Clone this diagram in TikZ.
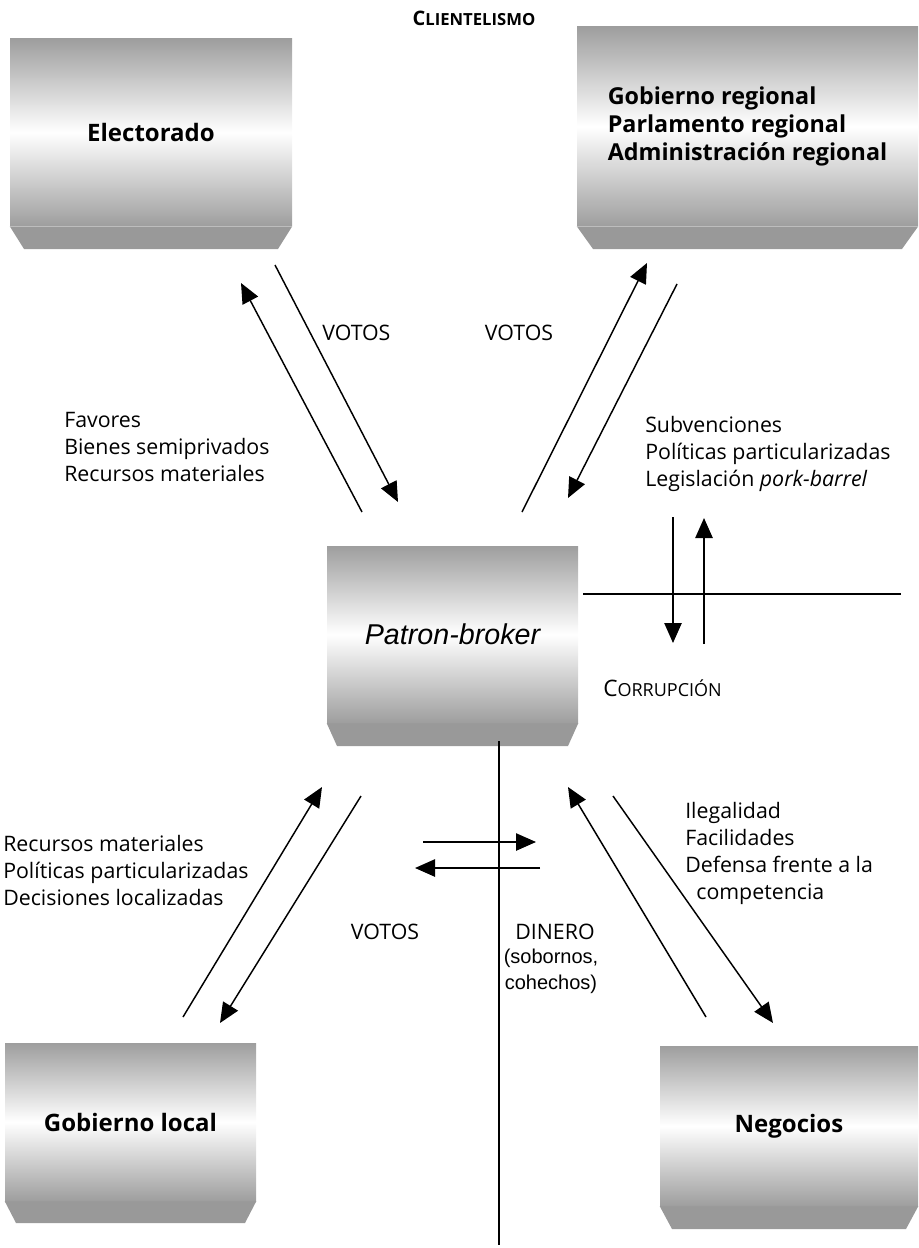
\documentclass[tikz,border=0pt]{standalone}
\usepackage{fontspec}
\setmainfont{Open Sans}
\newfontfamily\arialf{Liberation Sans}
\usetikzlibrary{arrows.meta,calc}
\definecolor{shadegray}{gray}{0.62}
\definecolor{bevelgray}{gray}{0.60}
\tikzset{
  box/.style={draw=none, top color=shadegray, bottom color=shadegray, middle color=white,
              inner sep=0pt, align=center, font=\fontsize{18}{21}\selectfont\bfseries},
  arr/.style={-{Triangle[length=15pt,width=13pt]}, line width=1.1pt},
  plainline/.style={line width=1.1pt},
  txt/.style={font=\fontsize{16}{20.25}\selectfont, align=left, anchor=west, inner sep=0pt},
  smallcap/.style={font=\fontsize{17}{20}\selectfont, inner sep=0pt},
}
\newcommand\mybox[8]{%
  % #1 name #2 x1 #3 ytop #4 x2 #5 ybottom #6 bevel bottom #7 inset #8 text
  \node[box, minimum width={(#4-#2)*0.75pt}, minimum height={(#5-#3)*0.75pt}]
     (#1) at ({(#2+#4)/2},{(#3+#5)/2}) {#8};
  \fill[bevelgray] (#1.south west) -- (#1.south east) -- ({#4-#7},#6) -- ({#2+#7},#6) -- cycle;
}
\begin{document}
\begin{tikzpicture}[x=0.75pt,y=-0.75pt]
\useasboundingbox (0,0) rectangle (918,1248);

% boxes
\mybox{elec}{10}{39}{292}{226}{249}{14}{Electorado}
\mybox{greg}{577}{27}{918}{226}{249}{16}{{\fontsize{17.5}{21}\selectfont\begin{tabular}{@{}l@{}}Gobierno regional\\Parlamento regional\\Administración regional\end{tabular}}}
\mybox{pb}{327}{546}{578}{723}{746}{10}{{\arialf\mdseries\itshape\fontsize{21.5}{24}\selectfont Patron-broker}}
\mybox{gloc}{5}{1043}{256}{1201}{1223}{11}{Gobierno local}
\mybox{neg}{660}{1046}{918}{1206}{1229}{12}{Negocios}

% title
\node[font=\bfseries\fontsize{15}{17}\selectfont, inner sep=0pt] (title) at (474,18)
  {C{\fontsize{12.5}{14}\selectfont LIENTELISMO}};

% coordinates
\coordinate (a1s) at (275,265); \coordinate (a1e) at (398,502);
\coordinate (a2s) at (362,512); \coordinate (a2e) at (241,283);
\coordinate (a3s) at (522,512); \coordinate (a3e) at (647,263);
\coordinate (a4s) at (677,284); \coordinate (a4e) at (568,498);
\coordinate (hcl) at (583,594); \coordinate (hcr) at (901,594);
\coordinate (c1s) at (673,517); \coordinate (c1e) at (673,643);
\coordinate (c2s) at (704,644); \coordinate (c2e) at (704,518);
\coordinate (vtop) at (499,741); \coordinate (vbot) at (499,1245);
\coordinate (m1s) at (423,842); \coordinate (m1e) at (536,842);
\coordinate (m2s) at (540,868); \coordinate (m2e) at (415,868);
\coordinate (l1s) at (183,1017); \coordinate (l1e) at (322,787);
\coordinate (l2s) at (361,796); \coordinate (l2e) at (220,1023);
\coordinate (r1s) at (706,1017); \coordinate (r1e) at (568,787);
\coordinate (r2s) at (613,796); \coordinate (r2e) at (773,1023);

\draw[arr] (a1s) -- (a1e);
\draw[arr] (a2s) -- (a2e);
\draw[arr] (a3s) -- (a3e);
\draw[arr] (a4s) -- (a4e);
\draw[plainline] (hcl) -- (hcr);
\draw[arr] (c1s) -- (c1e);
\draw[arr] (c2s) -- (c2e);
\draw[plainline] (vtop) -- (vbot);
\draw[arr] (m1s) -- (m1e);
\draw[arr] (m2s) -- (m2e);
\draw[arr] (l1s) -- (l1e);
\draw[arr] (l2s) -- (l2e);
\draw[arr] (r1s) -- (r1e);
\draw[arr] (r2s) -- (r2e);

% labels
\node[txt] (v1) at (322,333) {VOTOS};
\node[txt, anchor=center] (v2) at (519,333) {VOTOS};
\node[txt] (fav) at (64,447) {Favores\\Bienes semiprivados\\Recursos materiales};
\node[txt] (sub) at (645,454) {Subvenciones\\Políticas particularizadas\\Legislación \textit{pork-barrel}};
\node[smallcap, anchor=west] (corr) at (603,688) {C{\fontsize{13.5}{16}\selectfont ORRUPCIÓN}};
\node[txt] (rec) at (3,870) {Recursos materiales\\Políticas particularizadas\\Decisiones localizadas};
\node[txt] (ile) at (685,853) {Ilegalidad\\Facilidades\\Defensa frente a la\\\ \ competencia};
\node[txt, anchor=center] (v3) at (385,932) {VOTOS};
\node[txt, anchor=center] (din) at (555,932) {DINERO};
\node[font=\arialf\fontsize{15}{19.5}\selectfont, align=center, inner sep=0pt] (sob) at (551,971) {(sobornos,\\cohechos)};
\end{tikzpicture}
\end{document}
